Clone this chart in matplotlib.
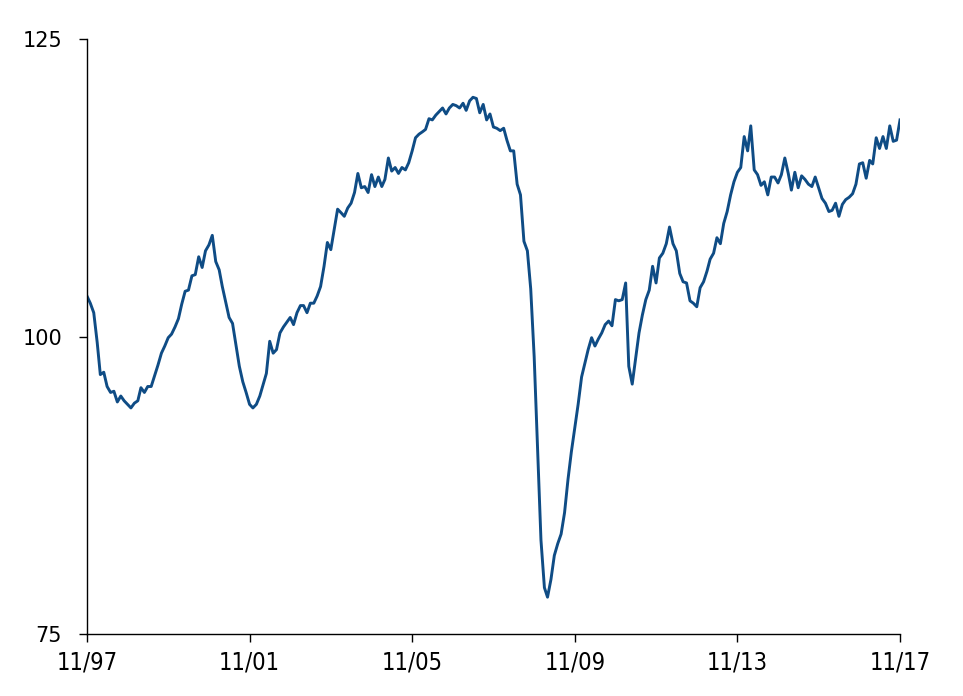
import matplotlib
matplotlib.use("Agg")
import matplotlib.pyplot as plt
import pandas as pd

start_month = "1997-11-01"
values = [
    103.4, 102.8, 102.0, 99.5, 96.8, 97.0, 95.8, 95.3, 95.4, 94.5,
    95.0, 94.6, 94.3, 94.0, 94.4, 94.6, 95.7, 95.3, 95.8, 95.8,
    96.7, 97.6, 98.6, 99.2, 99.9, 100.2, 100.8, 101.5, 102.7, 103.8,
    103.9, 105.1, 105.2, 106.7, 105.8, 107.2, 107.7, 108.5, 106.3, 105.6,
    104.2, 102.9, 101.6, 101.1, 99.3, 97.5, 96.2, 95.3, 94.3, 94.0,
    94.3, 95.0, 95.9, 96.9, 99.6, 98.6, 98.9, 100.3, 100.8, 101.2,
    101.6, 101.0, 102.0, 102.6, 102.6, 102.0, 102.8, 102.8, 103.4, 104.2,
    105.9, 107.9, 107.3, 109.0, 110.7, 110.4, 110.1, 110.8, 111.2, 112.1,
    113.7, 112.5, 112.6, 112.1, 113.6, 112.6, 113.4, 112.6, 113.2, 115.0,
    113.9, 114.2, 113.7, 114.2, 114.0, 114.6, 115.6, 116.7, 117.0, 117.2,
    117.4, 118.3, 118.2, 118.6, 118.9, 119.2, 118.7, 119.2, 119.5, 119.4,
    119.2, 119.6, 119.0, 119.8, 120.1, 120.0, 118.8, 119.5, 118.2, 118.7,
    117.6, 117.5, 117.3, 117.5, 116.5, 115.6, 115.6, 112.8, 111.9, 108.0,
    107.2, 104.0, 98.3, 90.7, 82.9, 78.9, 78.1, 79.6, 81.6, 82.6,
    83.4, 85.2, 88.0, 90.3, 92.3, 94.3, 96.6, 97.8, 98.9, 99.9,
    99.2, 99.8, 100.3, 101.0, 101.3, 100.9, 103.1, 103.0, 103.1, 104.5,
    97.5, 96.0, 98.1, 100.3, 101.8, 103.1, 103.9, 105.9, 104.5, 106.6,
    107.0, 107.8, 109.2, 107.8, 107.2, 105.3, 104.6, 104.5, 103.0, 102.8,
    102.5, 104.1, 104.6, 105.5, 106.5, 107.0, 108.3, 107.8, 109.5, 110.5,
    111.9, 113.0, 113.8, 114.2, 116.8, 115.6, 117.7, 114.0, 113.6, 112.7,
    113.0, 111.9, 113.4, 113.4, 112.9, 113.6, 115.0, 113.7, 112.3, 113.8,
    112.5, 113.5, 113.2, 112.8, 112.6, 113.4, 112.5, 111.6, 111.2, 110.5,
    110.6, 111.2, 110.1, 111.1, 111.5, 111.7, 112.0, 112.8, 114.5, 114.6,
    113.3, 114.8, 114.5, 116.7, 115.8, 116.8, 115.8, 117.7, 116.4, 116.5,
    118.2,
]
y_ticks = [75, 100, 125]
x_tick_labels = ["11/97", "11/01", "11/05", "11/09", "11/13", "11/17"]
x_tick_dates = ["1997-11-01", "2001-11-01", "2005-11-01",
                "2009-11-01", "2013-11-01", "2017-11-01"]

dates = pd.date_range(start_month, periods=len(values), freq="MS")

fig = plt.figure(figsize=(9.63, 6.96), dpi=100)
ax = fig.add_axes([0.0903, 0.089, 0.8443, 0.855])
ax.plot(dates, values, color="#0F4C85", linewidth=2.1)

ax.set_ylim(75, 125)
ax.set_xlim(dates[0], dates[-1])
ax.set_yticks(y_ticks)
ax.set_yticklabels([str(v) for v in y_ticks], fontsize=15, family=["DejaVu Sans"])
ax.set_xticks(pd.to_datetime(x_tick_dates))
ax.set_xticklabels(x_tick_labels, fontsize=17, family=["DejaVu Sans"],
                   fontstretch="condensed")

for s in ["top", "right"]:
    ax.spines[s].set_visible(False)
for s in ["left", "bottom"]:
    ax.spines[s].set_linewidth(1.0)
    ax.spines[s].set_color("black")
ax.tick_params(axis="y", direction="out", length=6, width=1, pad=12)
ax.tick_params(axis="x", direction="out", length=6, width=1, pad=6)

fig.savefig("out.png", dpi=100)
